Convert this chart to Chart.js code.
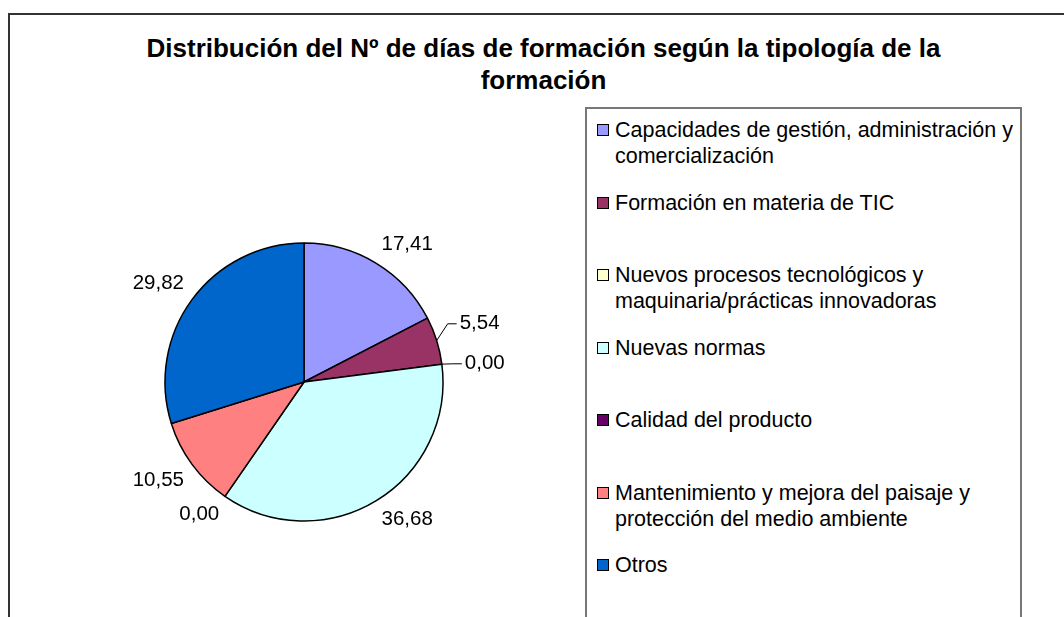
<!DOCTYPE html>
<html lang="es">
<head>
  <meta charset="UTF-8">
  <title>Distribución del Nº de días de formación</title>
  <script src="https://cdn.jsdelivr.net/npm/chart.js"></script>
  <style>
    body { margin: 0; background: #fff; font-family: "Liberation Sans", Arial, sans-serif; overflow: hidden; width: 1064px; height: 617px; position: relative; }
    .frame { position: absolute; left: 8px; top: 13px; width: 1100px; height: 700px; border: 2px solid #333; box-sizing: border-box; }
    .title { position: absolute; left: 8px; width: 1071px; top: 32px; text-align: center; font-weight: bold; font-size: 26px; line-height: 32px; color: #000; }
    .pie { position: absolute; left: 54px; top: 132px; width: 500px; height: 500px; }
    .legend { position: absolute; left: 585px; top: 107px; width: 437px; height: 600px; border: 2px solid #777; box-sizing: border-box; padding-top: 8px; }
    .item { position: relative; height: 72.5px; }
    .item .box { position: absolute; left: 10px; top: 7px; width: 12px; height: 12px; border: 1px solid #000; box-sizing: border-box; }
    .item .txt { position: absolute; left: 28px; top: 0; font-size: 21.5px; line-height: 26px; white-space: nowrap; color: #000; }
  </style>
</head>
<body>

<div class="frame"></div>
<div class="title">Distribución del Nº de días de formación según la tipología de la<br>formación</div>
<div class="pie"><canvas id="pieChart"></canvas></div>
<div class="legend" id="legend"></div>

<script>
const categories = [
  ["Capacidades de gestión, administración y", "comercialización"],
  ["Formación en materia de TIC"],
  ["Nuevos procesos tecnológicos y", "maquinaria/prácticas innovadoras"],
  ["Nuevas normas"],
  ["Calidad del producto"],
  ["Mantenimiento y mejora del paisaje y", "protección del medio ambiente"],
  ["Otros"]
];
const values = [17.41, 5.54, 0.00, 36.68, 0.00, 10.55, 29.82];
const colors = ["#9999FF", "#993366", "#FFFFCC", "#CCFFFF", "#660066", "#FF8080", "#0066CC"];

// value labels outside the pie, with leader lines when two labels crowd each other
const pieLabels = {
  id: "pieLabels",
  afterDatasetsDraw(chart) {
    const ctx = chart.ctx;
    const meta = chart.getDatasetMeta(0);
    const h = 20;
    ctx.save();
    ctx.font = '20.5px "Liberation Sans", Arial, sans-serif';
    ctx.fillStyle = "#000";
    ctx.strokeStyle = "#000";
    ctx.lineWidth = 1;
    ctx.textBaseline = "middle";
    ctx.textAlign = "left";

    const labs = meta.data.map((arc, i) => {
      const p = arc.getProps(["x", "y", "startAngle", "endAngle", "outerRadius"], true);
      const mid = (p.startAngle + p.endAngle) / 2;
      const ux = Math.cos(mid), uy = Math.sin(mid);
      const text = values[i].toFixed(2).replace(".", ",");
      const w = ctx.measureText(text).width;
      const ax = p.x + (p.outerRadius + 10) * ux;
      const ay = p.y + (p.outerRadius + 10) * uy;
      const left = ux >= 0 ? ax : ax - w;
      const top = uy < 0 ? ay - h : ay;
      return { p, ux, uy, text, w, left, top, leader: false };
    });

    for (let i = 0; i < labs.length - 1; i++) {
      const a = labs[i], b = labs[i + 1];
      const xo = a.left < b.left + b.w && b.left < a.left + a.w;
      const gap = Math.max(a.top, b.top) - (Math.min(a.top, b.top) + h);
      if (xo && gap < 10) { a.leader = true; b.leader = true; }
    }

    const lead = labs.filter(l => l.leader);
    lead.forEach(l => { l.cy = l.p.y + (l.p.outerRadius + 40) * l.uy; });
    lead.sort((a, b) => a.cy - b.cy);
    for (let i = 0; i < lead.length - 1; i++) {
      const a = lead[i], b = lead[i + 1];
      if (b.cy - a.cy < 2 * h) {
        const m = (a.cy + b.cy) / 2;
        a.cy = m - h; b.cy = m + h;
      }
    }

    labs.forEach(l => {
      if (!l.leader) {
        ctx.fillText(l.text, l.left, l.top + h / 2);
        return;
      }
      const ex = l.p.x + l.p.outerRadius * l.ux;
      const ey = l.p.y + l.p.outerRadius * l.uy;
      const right = l.ux >= 0;
      const tx = right ? ex + 23 : ex - 23 - l.w;
      const bx = right ? tx - 12 : tx + l.w + 12;
      const end = right ? tx - 3 : tx + l.w + 3;
      ctx.beginPath();
      ctx.moveTo(ex, ey);
      ctx.lineTo(bx, l.cy);
      ctx.lineTo(end, l.cy);
      ctx.stroke();
      ctx.fillText(l.text, tx, l.cy);
    });
    ctx.restore();
  }
};

const chart = new Chart(document.getElementById("pieChart"), {
  type: "pie",
  data: {
    labels: categories,
    datasets: [{
      data: values,
      backgroundColor: colors,
      borderColor: "#000",
      borderWidth: 1.5
    }]
  },
  options: {
    responsive: true,
    maintainAspectRatio: false,
    animation: false,
    radius: 139,
    layout: { padding: 0 },
    events: [],
    plugins: {
      legend: { display: false },
      title: { display: false },
      tooltip: { enabled: false }
    }
  },
  plugins: [pieLabels]
});

// legend box built from the chart's own labels and colours
document.getElementById("legend").innerHTML = chart.data.labels.map((lab, i) => `
  <div class="item">
    <div class="box" style="background:${chart.data.datasets[0].backgroundColor[i]}"></div>
    <div class="txt">${lab.join("<br>")}</div>
  </div>
`).join("");
</script>

</body>
</html>
